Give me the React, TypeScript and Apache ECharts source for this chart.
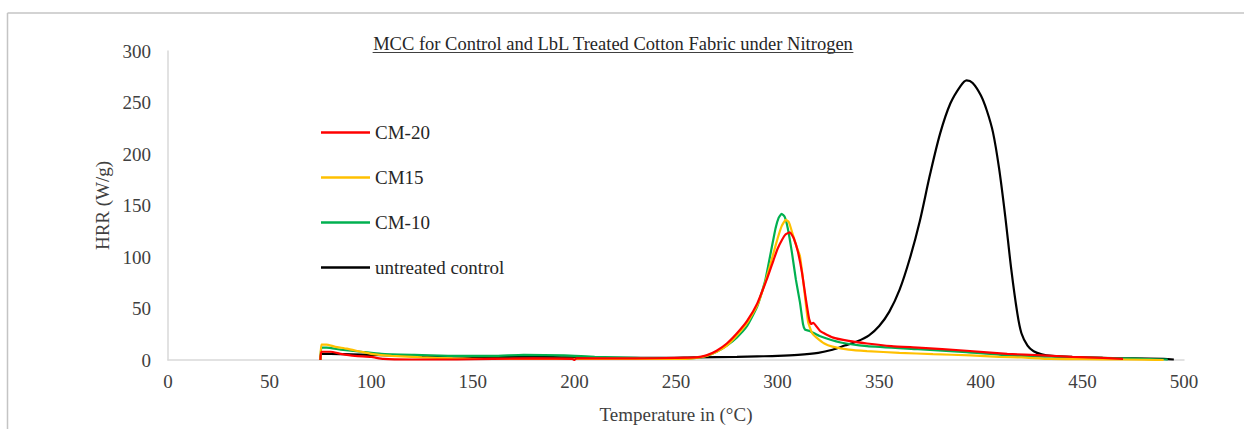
import React, { useEffect, useRef } from "react";
import * as echarts from "echarts";

const TITLE = "MCC for Control and LbL Treated Cotton Fabric under Nitrogen";
const X_NAME = "Temperature in (°C)";
const Y_NAME = "HRR (W/g)";
const SERIES_NAMES = ["CM-20", "CM15", "CM-10", "untreated control"];
const SERIES_COLORS = ["#FF0000", "#FFC000", "#00B050", "#000000"];

// [temperature °C, HRR W/g]
const cm20: [number, number][] = [
  [75, 0], [75.5, 8], [80, 8], [85, 6], [92, 4], [100, 3], [106, 1], [120, 0.5], [142, 0.5],
  [160, 1], [180, 1.5], [199, 1], [200, 0], [201, 1.5], [230, 1.5], [250, 2], [260, 2.5],
  [265, 4.5], [270, 9], [275, 16], [280, 26], [285, 38], [290, 55], [295, 80], [298, 97],
  [300, 108], [302, 116], [304, 122], [306, 124], [308, 118], [310, 105], [312, 85], [314, 58],
  [315.5, 40], [316.5, 35], [317.5, 36], [321, 28], [327, 22], [335, 18.5], [344, 16],
  [356, 13.5], [369, 12], [393, 9], [413, 6], [430, 4.5], [445, 3], [460, 2], [470, 1],
];

const cm15: [number, number][] = [
  [75, 0], [75.5, 15], [78, 15], [82, 13], [88, 11], [95, 8], [100, 6], [110, 4], [125, 2.5],
  [140, 1.5], [160, 1], [200, 1], [230, 1], [250, 1], [258, 1.5], [265, 4], [270, 8], [275, 14],
  [280, 24], [285, 36], [290, 53], [294, 76], [298, 104], [300, 118], [302, 130], [304, 136],
  [305.5, 134], [307, 125], [309, 112], [311, 101], [313, 70], [315, 37], [317, 26], [319, 22],
  [323, 16], [327, 13], [335, 10], [344, 8.6], [360, 7], [376.5, 5.7], [395, 4.5], [409, 3],
  [420, 2.5], [434, 1], [450, 0.8], [470, 0.5], [490, 0],
];

const cm10: [number, number][] = [
  [75, 0], [75.5, 12], [78, 12], [85, 10], [95, 8], [105, 6], [120, 5], [140, 4], [160, 4],
  [175, 5], [195, 4.5], [210, 3], [230, 2], [250, 1], [260, 2], [265, 4], [270, 8], [275, 14],
  [280, 22], [285, 33], [290, 52], [294, 78], [297, 108], [299, 128], [300.5, 138], [302, 142],
  [303.5, 139], [305, 128], [307, 105], [309, 78], [311, 56], [312.5, 35], [313.5, 29.5],
  [316, 28], [321, 23], [331, 17], [344, 13.5], [369, 10.5], [393, 7.6], [418, 4], [440, 3],
  [460, 2], [480, 1], [492, 0.5],
];

const untreated: [number, number][] = [
  [75, 0], [75.5, 6], [80, 6], [90, 5.5], [100, 5], [110, 4.5], [125, 4], [140, 3.5], [160, 3],
  [180, 3], [200, 2.5], [220, 2], [240, 2], [260, 2.5], [280, 3], [290, 3.5], [300, 4], [310, 5],
  [320, 7], [327, 10], [333, 14], [339, 18], [345, 24], [350, 33], [355, 47], [360, 68],
  [365, 98], [370, 135], [375, 180], [380, 220], [385, 249], [390, 266], [393, 271.5],
  [396, 269], [400, 257], [403, 242], [406, 221], [409, 186], [412, 140], [415, 88], [418, 45],
  [420, 26], [423, 14], [426, 8.5], [430, 5.5], [435, 4], [445, 3], [460, 2], [475, 1.5],
  [490, 1], [495, 0.5],
];

const SERIES_DATA = [cm20, cm15, cm10, untreated];

const FONT = "'Liberation Serif', 'Times New Roman', serif";

export default function App() {
  const ref = useRef<HTMLDivElement>(null);
  useEffect(() => {
    const el = ref.current;
    if (!el) return;
    const chart = echarts.init(el, null, { renderer: "svg" });
    const titleSize = 18.5;
    const titleFont = `${titleSize}px 'Liberation Serif', serif`;
    let titleW = 483;
    try {
      const ctx = document.createElement("canvas").getContext("2d");
      if (ctx) {
        ctx.font = titleFont;
        titleW = ctx.measureText(TITLE).width;
      }
    } catch (e) {}
    const titleX = 613;
    const titleY = 44;
    chart.setOption({
      animation: false,
      backgroundColor: "#ffffff",
      grid: { left: 168, width: 1016, top: 51, height: 315, containLabel: false },
      legend: {
        orient: "vertical",
        left: 321,
        top: 123,
        padding: 0,
        itemWidth: 49,
        itemHeight: 2.5,
        itemGap: 26,
        icon: "rect",
        textStyle: { fontFamily: FONT, fontSize: 19, color: "#262626" },
        data: SERIES_NAMES,
      },
      xAxis: {
        type: "value",
        min: 0,
        max: 500,
        interval: 50,
        name: X_NAME,
        nameLocation: "middle",
        nameGap: 45,
        nameTextStyle: { fontFamily: FONT, fontSize: 19, color: "#404040" },
        axisLine: { show: true, lineStyle: { color: "#d9d9d9", width: 1.5 } },
        axisTick: { show: false },
        splitLine: { show: false },
        axisLabel: { fontFamily: FONT, fontSize: 19, color: "#404040", margin: 12 },
      },
      yAxis: {
        type: "value",
        min: 0,
        max: 300,
        interval: 50,
        name: Y_NAME,
        nameLocation: "middle",
        nameGap: 56,
        nameTextStyle: { fontFamily: FONT, fontSize: 19, color: "#404040" },
        axisLine: { show: true, lineStyle: { color: "#d9d9d9", width: 1.5 } },
        axisTick: { show: false },
        splitLine: { show: false },
        axisLabel: { fontFamily: FONT, fontSize: 19, color: "#404040", margin: 17 },
      },
      series: SERIES_NAMES.map((name, i) => ({
        name,
        type: "line",
        data: SERIES_DATA[i],
        showSymbol: false,
        symbol: "none",
        smooth: i === 3 ? 0.3 : 0.15,
        lineStyle: { color: SERIES_COLORS[i], width: 2.2 },
        itemStyle: { color: SERIES_COLORS[i] },
        z: 10 - i,
      })),
      graphic: [
        {
          type: "line",
          shape: { x1: 7.5, y1: 13, x2: 1244, y2: 13 },
          style: { stroke: "#c4c4c4", lineWidth: 1.5 },
        },
        {
          type: "line",
          shape: { x1: 7.5, y1: 13, x2: 7.5, y2: 429 },
          style: { stroke: "#c4c4c4", lineWidth: 1.5 },
        },
        {
          type: "text",
          x: titleX,
          y: titleY,
          style: {
            text: TITLE,
            font: titleFont,
            fill: "#262626",
            textAlign: "center",
            textVerticalAlign: "middle",
          },
        },
        {
          type: "line",
          shape: { x1: titleX - titleW / 2, y1: 52.5, x2: titleX + titleW / 2, y2: 52.5 },
          style: { stroke: "#404040", lineWidth: 1 },
        },
      ],
    });
    return () => chart.dispose();
  }, []);
  return (
    <div
      ref={ref}
      style={{ position: "fixed", left: 0, top: 0, width: 1244, height: 429, background: "#fff" }}
    />
  );
}
